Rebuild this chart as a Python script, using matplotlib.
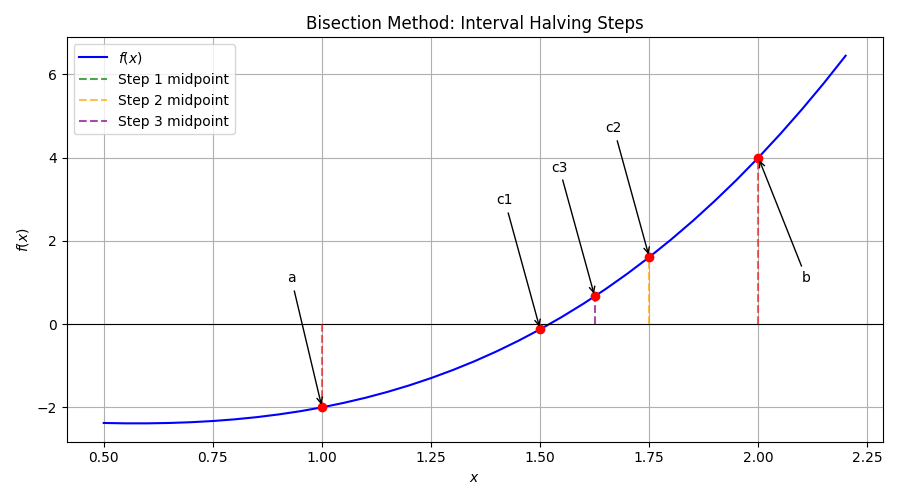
import matplotlib
matplotlib.use("Agg")
import matplotlib.pyplot as plt

# curve values
curve_x = [0.50, 0.55, 0.60, 0.65, 0.70, 0.75, 0.80, 0.85, 0.90, 0.95,
           1.00, 1.05, 1.10, 1.15, 1.20, 1.25, 1.30, 1.35, 1.40, 1.45,
           1.50, 1.55, 1.60, 1.65, 1.70, 1.75, 1.80, 1.85, 1.90, 1.95,
           2.00, 2.05, 2.10, 2.15, 2.20]
curve_y = [-2.375, -2.384, -2.384, -2.375, -2.357, -2.328, -2.288, -2.236, -2.171, -2.093,
           -2.000, -1.892, -1.769, -1.629, -1.472, -1.297, -1.103, -0.890, -0.656, -0.401,
           -0.125, 0.174, 0.496, 0.842, 1.213, 1.609, 2.032, 2.481, 2.959, 3.464,
           4.000, 4.565, 5.161, 5.788, 6.448]

# interval endpoints and midpoints
endpoint_x = [1.0, 2.0]
endpoint_y = [-2.0, 4.0]
endpoint_labels = ["a", "b"]
mid_x = [1.5, 1.75, 1.625]
mid_y = [-0.125, 1.609, 0.666]
mid_labels = ["c1", "c2", "c3"]
step_labels = ["Step 1 midpoint", "Step 2 midpoint", "Step 3 midpoint"]
step_colors = ["green", "orange", "purple"]

fig, ax = plt.subplots(figsize=(9, 5), dpi=100)
ax.plot(curve_x, curve_y, color="blue", label="$f(x)$")
ax.axhline(0, color="black", linewidth=0.8)

for xv, yv in zip(endpoint_x, endpoint_y):
    ax.plot([xv, xv], [0, yv], color="red", linestyle="--", alpha=0.6)

for xv, yv, lab, c in zip(mid_x, mid_y, step_labels, step_colors):
    ax.plot([xv, xv], [0, yv], color=c, linestyle="--", alpha=0.7, label=lab)

ax.plot(endpoint_x + mid_x, endpoint_y + mid_y, "ro")

arrow = dict(arrowstyle="->", color="black")
ax.annotate("a", xy=(endpoint_x[0], endpoint_y[0]),
            xytext=(endpoint_x[0] - 0.08, endpoint_y[0] + 3), arrowprops=arrow)
ax.annotate("b", xy=(endpoint_x[1], endpoint_y[1]),
            xytext=(endpoint_x[1] + 0.1, endpoint_y[1] - 3), arrowprops=arrow)
for xv, yv, lab in zip(mid_x, mid_y, mid_labels):
    ax.annotate(lab, xy=(xv, yv), xytext=(xv - 0.1, yv + 3), arrowprops=arrow)

ax.set_title("Bisection Method: Interval Halving Steps")
ax.set_xlabel("$x$")
ax.set_ylabel("$f(x)$")
ax.grid(True)
ax.legend(loc="upper left")
fig.tight_layout()
fig.savefig("out.png")
